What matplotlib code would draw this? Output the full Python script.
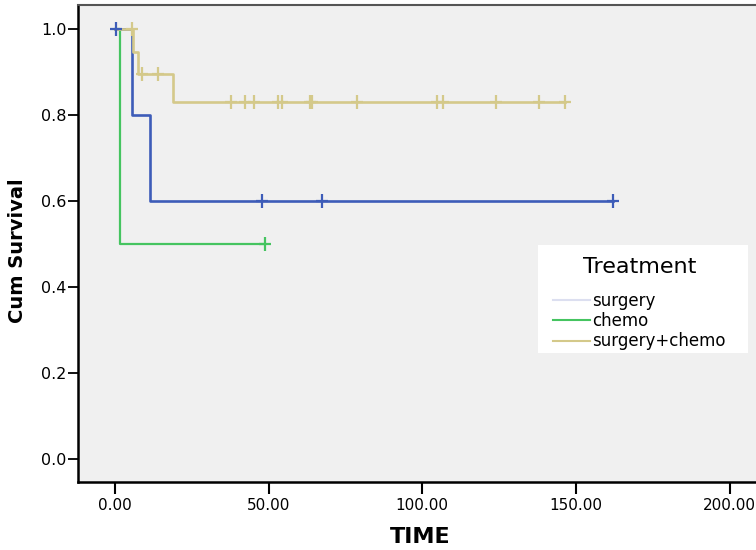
import numpy as np
import matplotlib.pyplot as plt
from matplotlib.lines import Line2D
from matplotlib.patches import Rectangle

plt.rcParams['font.family'] = ['DejaVu Sans']

# Kaplan-Meier step data
groups = ["surgery", "chemo", "surgery+chemo"]
colors = ["#3d5cb8", "#45c460", "#d4c98a"]

surgery_times = [0, 5.6, 11.5]
surgery_surv = [1.0, 0.8, 0.6]
surgery_censor = [0.3, 47.7, 67.3, 162.2]

chemo_times = [0, 1.6]
chemo_surv = [1.0, 0.5]
chemo_censor = [48.8]

sc_times = [0, 5.95, 7.5, 18.8]
sc_surv = [1.0, 0.947, 0.897, 0.831]
sc_censor = [5.4, 8.7, 14.1, 37.6, 42.3, 45.3, 53.0, 54.3, 63.5, 64.2,
             78.6, 104.7, 106.8, 123.9, 138.0, 146.4]

y_ticks = [0.0, 0.2, 0.4, 0.6, 0.8, 1.0]
x_ticks = [0, 50, 100, 150, 200]

fig = plt.figure(figsize=(7.56, 5.5), dpi=100)
fig.patch.set_facecolor("white")
ax = fig.add_axes([78.3 / 756, 1 - 481.7 / 550, 677.7 / 756, 476.7 / 550])
ax.set_facecolor("#f0f0f0")

series = [
    (surgery_times, surgery_surv, surgery_censor, 1.9),
    (chemo_times, chemo_surv, chemo_censor, 1.6),
    (sc_times, sc_surv, sc_censor, 1.9),
]
for (t, s, cens, lw), col in zip(series, colors):
    tt = list(t) + [max(cens)]
    ss = list(s) + [s[-1]]
    ax.step(tt, ss, where="post", color=col, lw=lw, zorder=3)
    idx = np.searchsorted(t, cens, side="right") - 1
    cs = np.array(s)[idx]
    ax.plot(cens, cs, ls="none", marker="|", ms=10, mew=1.6, color=col, zorder=4)
    ax.plot(cens, cs, ls="none", marker="_", ms=9, mew=1.6, color=col, zorder=4)

ax.set_xlim(-11.94, 208.6)
ax.set_ylim(-0.0528, 1.0566)
ax.set_xticks(x_ticks)
ax.set_xticklabels([f"{v:.2f}" for v in x_ticks])
ax.set_yticks(y_ticks)
ax.set_yticklabels([f"{v:.1f}" for v in y_ticks])
ax.tick_params(axis="x", direction="out", length=8.5, width=1.5, labelsize=11, pad=3)
ax.tick_params(axis="y", direction="out", length=7.5, width=1.3, labelsize=11.5, pad=1)

for side in ["left", "bottom"]:
    ax.spines[side].set_linewidth(1.8)
ax.spines["top"].set_color("#555555")
ax.spines["top"].set_linewidth(1.5)
ax.spines["right"].set_visible(False)

ax.set_ylabel("Cum Survival", fontsize=14, fontweight="bold", ha="center", va="center")
ax.yaxis.set_label_coords(-0.089, 0.484)
ax.set_xlabel("TIME", fontsize=16, fontweight="bold", va="center")
ax.xaxis.set_label_coords(0.505, -0.1154)

# white legend panel
ax.add_patch(Rectangle((538 / 756, 1 - 353 / 550), 210 / 756, 108 / 550,
                       transform=fig.transFigure, facecolor="white",
                       edgecolor="none", clip_on=False, zorder=4.5))

handles = [
    Line2D([0], [0], color="#dcdff0", lw=1.5),
    Line2D([0], [0], color=colors[1], lw=1.5),
    Line2D([0], [0], color=colors[2], lw=1.5),
]
leg = ax.legend(handles, groups, title="Treatment", loc="upper left",
                bbox_to_anchor=(553 / 756, 1 - 257 / 550),
                bbox_transform=fig.transFigure, frameon=False,
                fontsize=12, title_fontsize=16, handlelength=2.2,
                handletextpad=0.15, labelspacing=0.13, borderpad=0,
                borderaxespad=0)
leg.set_zorder(5)
leg._legend_box.sep = 10.9

fig.savefig("out.png", dpi=100)
